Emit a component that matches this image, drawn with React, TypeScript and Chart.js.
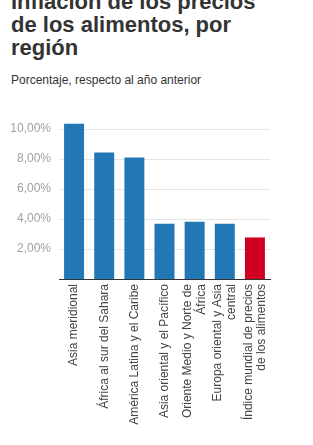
import React, { useEffect, useRef } from "react";
import { Chart, registerables } from "chart.js";

Chart.register(...registerables);

const titleLines = ["Inflación de los precios", "de los alimentos, por", "región"];
const subtitle = "Porcentaje, respecto al año anterior";

const categories: string[][] = [
  ["Asia meridional"],
  ["África al sur del Sahara"],
  ["América Latina y el Caribe"],
  ["Asia oriental y el Pacífico"],
  ["Oriente Medio y Norte de", "África"],
  ["Europa oriental y Asia", "central"],
  ["Índice mundial de precios", "de los alimentos"],
];
const values = [10.35, 8.44, 8.1, 3.69, 3.82, 3.69, 2.77];
const barColors = ["#2178b4", "#2178b4", "#2178b4", "#2178b4", "#2178b4", "#2178b4", "#cf0022"];
const yTickValues = [2, 4, 6, 8, 10];
const yMax = 11;

const FONT = "'Liberation Sans', Arial, sans-serif";

const centerMultilinePlugin = {
  id: "centerMultiline",
  beforeDraw(chart: any) {
    const scale = chart.scales.x;
    const items = scale.getLabelItems(chart.chartArea);
    items.forEach((it: any) => {
      if (it.__adj) return;
      const lines = Array.isArray(it.label) ? it.label.length : 1;
      const lh = it.font.lineHeight;
      it.options.translation[0] -= ((lines - 1) * lh) / 2;
      it.__adj = true;
    });
  },
};

export default function App() {
  const ref = useRef<HTMLCanvasElement>(null);

  useEffect(() => {
    const chart = new Chart(ref.current!, {
      type: "bar",
      data: {
        labels: categories,
        datasets: [
          {
            data: values,
            backgroundColor: barColors,
            borderWidth: 0,
            categoryPercentage: 1,
            barPercentage: 0.663,
          },
        ],
      },
      options: {
        responsive: false,
        animation: false,
        events: [],
        layout: { padding: { top: 19, left: 0, right: 43, bottom: 0 } },
        plugins: { legend: { display: false }, tooltip: { enabled: false } },
        scales: {
          x: {
            grid: { display: false, drawTicks: false },
            border: { display: true, color: "#333333", width: 1 },
            ticks: {
              autoSkip: false,
              minRotation: 90,
              maxRotation: 90,
              padding: 5,
              color: "#444444",
              font: { family: FONT, size: 12, lineHeight: 1.1 },
            },
            afterFit(scale: any) {
              scale.height = 166;
            },
          },
          y: {
            min: 0,
            max: yMax,
            grid: { color: "#e6e6e6", drawTicks: false },
            border: { display: false },
            afterBuildTicks(scale: any) {
              scale.ticks = yTickValues.map((v) => ({ value: v }));
            },
            ticks: {
              padding: 8,
              color: "#a0a0a0",
              font: { family: FONT, size: 12 },
              callback: (v: any) => Number(v).toFixed(2).replace(".", ",") + "%",
            },
            afterFit(scale: any) {
              scale.width = 59;
            },
          },
        },
      },
      plugins: [centerMultilinePlugin],
    });
    return () => chart.destroy();
  }, []);

  return (
    <div
      style={{
        position: "absolute",
        left: 0,
        top: 0,
        width: 313,
        height: 445,
        overflow: "hidden",
        background: "#ffffff",
        fontFamily: FONT,
      }}
    >
      <div
        style={{
          position: "absolute",
          left: 11,
          top: -10,
          fontSize: 22,
          lineHeight: "23px",
          fontWeight: "bold",
          color: "#333333",
          whiteSpace: "nowrap",
        }}
      >
        {titleLines.map((l, i) => (
          <div key={i}>{l}</div>
        ))}
      </div>
      <div
        style={{
          position: "absolute",
          left: 11,
          top: 73,
          fontSize: 12,
          lineHeight: "14px",
          color: "#333333",
          whiteSpace: "nowrap",
        }}
      >
        {subtitle}
      </div>
      <canvas
        ref={ref}
        width={313}
        height={350}
        style={{ position: "absolute", left: 0, top: 95, width: 313, height: 350 }}
      />
    </div>
  );
}
